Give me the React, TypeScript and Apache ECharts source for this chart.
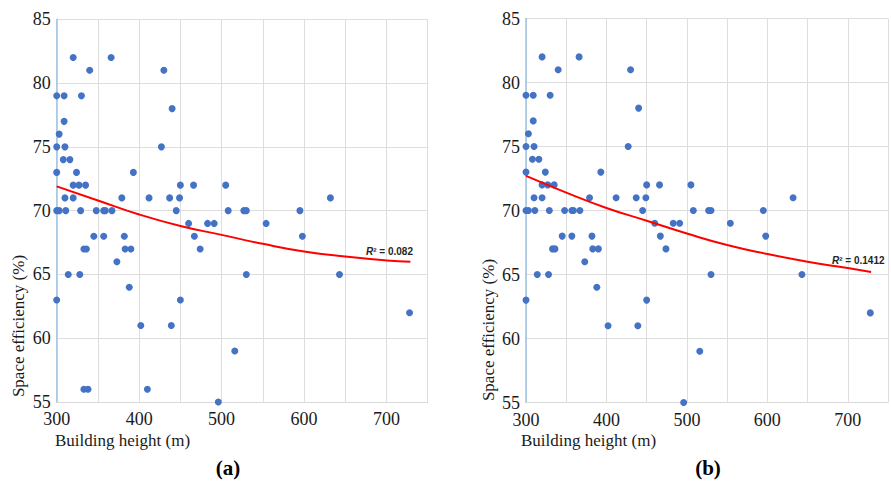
import React, { useEffect, useRef } from "react";
import * as echarts from "echarts";

// Panel (a): all buildings
const heightsA = [
  320, 366, 340, 430, 300, 309, 330, 440, 309, 303, 300, 310, 427, 308, 316,
  300, 324, 393, 320, 327, 335, 450, 466, 505, 310, 320, 379, 412, 437, 449,
  632, 300, 303, 311, 329, 348, 357, 359, 367, 445, 508, 527, 530, 595, 460,
  483, 491, 554, 345, 357, 382, 467, 598, 333, 336, 383, 390, 474, 373, 314,
  328, 530, 643, 388, 300, 450, 728, 402, 439, 516, 333, 338, 410, 496,
];
const efficiencyA = [
  82, 82, 81, 81, 79, 79, 79, 78, 77, 76, 75, 75, 75, 74, 74,
  73, 73, 73, 72, 72, 72, 72, 72, 72, 71, 71, 71, 71, 71, 71,
  71, 70, 70, 70, 70, 70, 70, 70, 70, 70, 70, 70, 70, 70, 69,
  69, 69, 69, 68, 68, 68, 68, 68, 67, 67, 67, 67, 67, 66, 65,
  65, 65, 65, 64, 63, 63, 62, 61, 61, 59, 56, 56, 56, 55,
];

// Panel (b): without the 56 % points
const heightsB = [
  320, 366, 340, 430, 300, 309, 330, 440, 309, 303, 300, 310, 427, 308, 316,
  300, 324, 393, 320, 327, 335, 450, 466, 505, 310, 320, 379, 412, 437, 449,
  632, 300, 303, 311, 329, 348, 357, 359, 367, 445, 508, 527, 530, 595, 460,
  483, 491, 554, 345, 357, 382, 467, 598, 333, 336, 383, 390, 474, 373, 314,
  328, 530, 643, 388, 300, 450, 728, 402, 439, 516, 496,
];
const efficiencyB = [
  82, 82, 81, 81, 79, 79, 79, 78, 77, 76, 75, 75, 75, 74, 74,
  73, 73, 73, 72, 72, 72, 72, 72, 72, 71, 71, 71, 71, 71, 71,
  71, 70, 70, 70, 70, 70, 70, 70, 70, 70, 70, 70, 70, 70, 69,
  69, 69, 69, 68, 68, 68, 68, 68, 67, 67, 67, 67, 67, 66, 65,
  65, 65, 65, 64, 63, 63, 62, 61, 61, 59, 55,
];

// Trend lines
const trendX = [300, 350, 400, 450, 500, 550, 600, 650, 700, 729];
const trendA = [71.9, 70.8, 69.7, 68.8, 68.1, 67.4, 66.8, 66.4, 66.1, 66.0];
const trendB = [72.7, 71.4, 70.2, 69.2, 68.2, 67.3, 66.6, 66.0, 65.5, 65.2];

const r2A = "0.082";
const r2B = "0.1412";

const SERIF = "Liberation Serif, serif";
const SANS = "Liberation Sans, Arial, sans-serif";

function pairs(xs: number[], ys: number[]) {
  return xs.map((x, i) => [x, ys[i]]);
}

function makeX(gridIndex: number) {
  return {
    type: "value",
    gridIndex,
    min: 300,
    max: 750,
    interval: 50,
    axisLine: { show: true, lineStyle: { color: "#d9d9d9", width: 1 } },
    axisTick: { show: false },
    axisLabel: {
      margin: 10,
      fontFamily: SERIF,
      fontSize: 18,
      lineHeight: 14,
      color: "#1a1a1a",
      formatter: (v: number) => (v % 100 === 0 && v < 750 ? String(v) : ""),
    },
    splitLine: { show: true, lineStyle: { color: "#dedede", width: 1 } },
  };
}

function makeY(gridIndex: number) {
  return {
    type: "value",
    gridIndex,
    min: 55,
    max: 85,
    interval: 5,
    axisLine: { show: true, onZero: false, lineStyle: { color: "#9dc3e6", width: 1.5 } },
    axisTick: { show: false },
    axisLabel: {
      margin: 6,
      fontFamily: SERIF,
      fontSize: 18,
      lineHeight: 14,
      color: "#1a1a1a",
    },
    splitLine: { show: true, lineStyle: { color: "#dedede", width: 1 } },
  };
}

function plainText(x: number, y: number, text: string, size: number, opts: any = {}) {
  return {
    type: "text",
    x,
    y,
    rotation: opts.rotation || 0,
    style: {
      fill: opts.fill || "#1a1a1a",
      text,
      fontFamily: SERIF,
      fontSize: size,
      fontWeight: opts.bold ? "bold" : "normal",
      textAlign: opts.align || "left",
      textVerticalAlign: "middle",
    },
  };
}

function r2Text(x: number, y: number, value: string) {
  return {
    type: "text",
    x,
    y,
    z: 10,
    style: {
      text: "{r|R}{n|² = " + value + "}",
      textAlign: "left",
      textVerticalAlign: "middle",
      rich: {
        r: { fontFamily: SANS, fontSize: 10, fontWeight: "bold", fontStyle: "italic", fill: "#262626" },
        n: { fontFamily: SANS, fontSize: 10, fontWeight: "bold", fill: "#262626" },
      },
    },
  };
}

export default function App() {
  const ref = useRef<HTMLDivElement>(null);

  useEffect(() => {
    if (!ref.current) return;
    const chart = echarts.init(ref.current, undefined, { renderer: "svg" });
    chart.setOption({
      animation: false,
      backgroundColor: "#ffffff",
      textStyle: { fontFamily: SERIF },
      grid: [
        { left: 56.7, top: 19.3, width: 371, height: 382.7, containLabel: false },
        { left: 526, top: 18.5, width: 373, height: 384, containLabel: false },
      ],
      xAxis: [makeX(0), makeX(1)],
      yAxis: [makeY(0), makeY(1)],
      series: [
        {
          type: "scatter",
          xAxisIndex: 0,
          yAxisIndex: 0,
          data: pairs(heightsA, efficiencyA),
          symbolSize: 7,
          itemStyle: { color: "#4472c4", opacity: 1 },
          z: 3,
        },
        {
          type: "line",
          xAxisIndex: 0,
          yAxisIndex: 0,
          data: pairs(trendX, trendA),
          smooth: true,
          showSymbol: false,
          lineStyle: { color: "#ff0000", width: 2 },
          z: 4,
        },
        {
          type: "scatter",
          xAxisIndex: 1,
          yAxisIndex: 1,
          data: pairs(heightsB, efficiencyB),
          symbolSize: 7,
          itemStyle: { color: "#4472c4", opacity: 1 },
          z: 3,
        },
        {
          type: "line",
          xAxisIndex: 1,
          yAxisIndex: 1,
          data: pairs(trendX, trendB),
          smooth: true,
          showSymbol: false,
          lineStyle: { color: "#ff0000", width: 2 },
          z: 4,
        },
      ],
      graphic: [
        plainText(55, 440, "Building height (m)", 17),
        plainText(521, 440, "Building height (m)", 17),
        plainText(18, 326, "Space efficiency (%)", 17, { rotation: Math.PI / 2, align: "center" }),
        plainText(488, 330, "Space efficiency (%)", 17, { rotation: Math.PI / 2, align: "center" }),
        plainText(228, 468, "(a)", 21, { bold: true, align: "center", fill: "#000" }),
        plainText(708, 468, "(b)", 21, { bold: true, align: "center", fill: "#000" }),
        r2Text(366, 251, r2A),
        r2Text(832, 260, r2B),
      ],
    });
    return () => chart.dispose();
  }, []);

  return (
    <div
      ref={ref}
      style={{ position: "fixed", left: 0, top: 0, width: 891, height: 481, background: "#fff", overflow: "hidden" }}
    />
  );
}
